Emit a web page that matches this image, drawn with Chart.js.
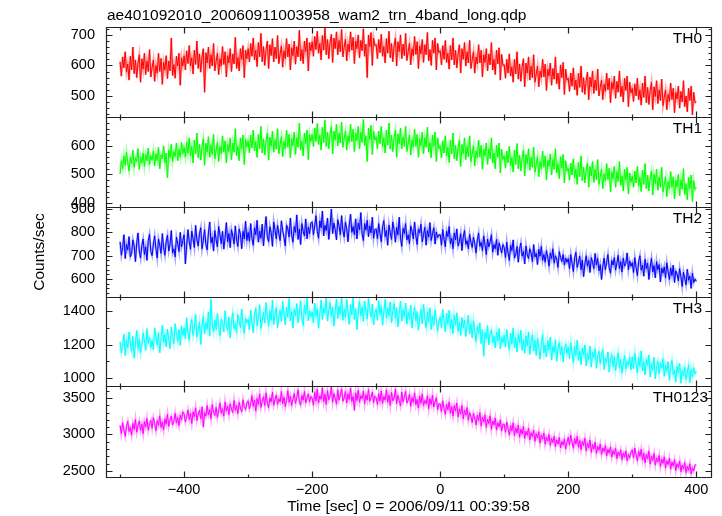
<!DOCTYPE html>
<html>
<head>
<meta charset="utf-8">
<script src="https://cdn.jsdelivr.net/npm/chart.js@4/dist/chart.umd.min.js"></script>
<style>
  html, body { margin: 0; padding: 0; background: #fff; }
  #wrap { position: relative; width: 722px; height: 516px; background: #fff; }
  #wrap canvas { position: absolute; left: 0; top: 0; }
</style>
</head>
<body>
<div id="wrap">
  <canvas id="p0" width="722" height="516"></canvas>
  <canvas id="p1" width="722" height="516"></canvas>
  <canvas id="p2" width="722" height="516"></canvas>
  <canvas id="p3" width="722" height="516"></canvas>
  <canvas id="p4" width="722" height="516"></canvas>
</div>
<script>
// ---- data (2 s bins) ----
const plotTitle = 'ae401092010_20060911003958_wam2_trn_4band_long.qdp';
const xTitle = 'Time [sec] 0 = 2006/09/11 00:39:58';
const yTitle = 'Counts/sec';
const panelLabels = ['TH0', 'TH1', 'TH2', 'TH3', 'TH0123'];

const times = [
  -500,-498,-496,-494,-492,-490,-488,-486,-484,-482,-480,-478,-476,-474,-472,-470,-468,-466,-464,-462,-460,-458,-456,-454,-452,
  -450,-448,-446,-444,-442,-440,-438,-436,-434,-432,-430,-428,-426,-424,-422,-420,-418,-416,-414,-412,-410,-408,-406,-404,-402,
  -400,-398,-396,-394,-392,-390,-388,-386,-384,-382,-380,-378,-376,-374,-372,-370,-368,-366,-364,-362,-360,-358,-356,-354,-352,
  -350,-348,-346,-344,-342,-340,-338,-336,-334,-332,-330,-328,-326,-324,-322,-320,-318,-316,-314,-312,-310,-308,-306,-304,-302,
  -300,-298,-296,-294,-292,-290,-288,-286,-284,-282,-280,-278,-276,-274,-272,-270,-268,-266,-264,-262,-260,-258,-256,-254,-252,
  -250,-248,-246,-244,-242,-240,-238,-236,-234,-232,-230,-228,-226,-224,-222,-220,-218,-216,-214,-212,-210,-208,-206,-204,-202,
  -200,-198,-196,-194,-192,-190,-188,-186,-184,-182,-180,-178,-176,-174,-172,-170,-168,-166,-164,-162,-160,-158,-156,-154,-152,
  -150,-148,-146,-144,-142,-140,-138,-136,-134,-132,-130,-128,-126,-124,-122,-120,-118,-116,-114,-112,-110,-108,-106,-104,-102,
  -100,-98,-96,-94,-92,-90,-88,-86,-84,-82,-80,-78,-76,-74,-72,-70,-68,-66,-64,-62,-60,-58,-56,-54,-52,
  -50,-48,-46,-44,-42,-40,-38,-36,-34,-32,-30,-28,-26,-24,-22,-20,-18,-16,-14,-12,-10,-8,-6,-4,-2,
  0,2,4,6,8,10,12,14,16,18,20,22,24,26,28,30,32,34,36,38,40,42,44,46,48,
  50,52,54,56,58,60,62,64,66,68,70,72,74,76,78,80,82,84,86,88,90,92,94,96,98,
  100,102,104,106,108,110,112,114,116,118,120,122,124,126,128,130,132,134,136,138,140,142,144,146,148,
  150,152,154,156,158,160,162,164,166,168,170,172,174,176,178,180,182,184,186,188,190,192,194,196,198,
  200,202,204,206,208,210,212,214,216,218,220,222,224,226,228,230,232,234,236,238,240,242,244,246,248,
  250,252,254,256,258,260,262,264,266,268,270,272,274,276,278,280,282,284,286,288,290,292,294,296,298,
  300,302,304,306,308,310,312,314,316,318,320,322,324,326,328,330,332,334,336,338,340,342,344,346,348,
  350,352,354,356,358,360,362,364,366,368,370,372,374,376,378,380,382,384,386,388,390,392,394,396,398,
  400
];

const th0 = [
  612,565,628,592,645,578,605,552,630,585,660,573,618,560,608,635,545,622,588,640,570,615,580,652,562,
  593,618,548,600,575,640,580,623,538,610,585,632,557,615,582,690,567,603,558,630,598,640,535,625,598,
  632,585,648,606,665,598,625,572,650,603,680,590,638,578,628,655,512,642,608,660,590,635,598,672,582,
  613,640,570,622,598,662,603,645,562,632,608,655,580,638,605,692,590,626,582,655,620,665,560,650,622,
  655,612,672,630,690,618,650,596,675,628,705,612,662,600,652,680,590,668,632,688,612,660,622,698,606,
  638,664,594,648,622,688,628,670,585,658,632,680,604,662,628,715,615,652,606,680,645,690,582,675,648,
  678,630,695,652,712,640,672,618,698,650,722,635,685,622,675,702,610,690,655,710,635,682,645,718,628,
  660,686,615,670,645,710,650,692,606,680,655,700,625,682,648,720,630,670,560,700,662,708,600,690,665,
  668,622,685,642,702,630,662,608,688,640,712,625,672,612,664,690,598,678,645,700,622,670,632,705,616,
  645,672,602,655,632,695,636,678,590,664,638,685,610,668,635,708,615,652,600,682,640,690,585,672,642,
  648,602,665,620,682,610,640,588,665,618,690,602,650,592,640,668,575,655,620,675,598,645,608,682,590,
  618,645,575,628,605,668,608,650,562,635,610,655,582,638,602,675,585,620,570,650,605,658,552,636,600,
  602,558,620,575,638,565,596,545,620,572,645,555,605,548,595,622,530,608,575,628,552,598,560,635,545,
  572,598,530,582,560,620,562,604,518,588,565,608,535,590,555,628,540,575,522,602,560,610,505,588,552,
  558,515,575,532,592,520,552,502,575,528,598,512,560,505,550,578,488,562,530,582,508,552,518,588,500,
  528,552,488,538,515,575,520,558,478,545,522,565,492,548,512,582,498,532,480,558,518,565,465,545,510,
  525,482,540,500,558,488,520,470,542,495,565,478,528,472,518,545,455,530,498,550,475,520,485,555,468,
  495,520,455,505,482,542,488,525,445,512,490,532,460,515,480,550,465,500,448,525,485,532,438,512,478,
  482
];

const th1 = [
  502,548,520,565,532,578,540,512,560,538,585,525,558,545,590,518,562,540,575,528,570,548,592,535,565,
  550,582,530,572,548,595,520,568,555,600,540,575,488,585,558,605,545,580,562,610,548,588,560,612,572,
  595,560,612,575,628,565,598,540,620,572,645,558,605,550,598,625,532,610,578,632,560,602,570,640,555,
  585,612,545,598,572,635,578,618,540,605,580,628,552,610,578,660,565,598,548,628,590,638,535,622,596,
  618,575,638,592,655,582,615,560,640,590,668,575,625,568,618,645,550,630,598,652,578,622,588,660,572,
  605,632,562,615,590,655,595,640,558,625,600,648,570,628,595,680,585,615,565,645,608,655,552,640,615,
  640,598,662,615,678,605,638,585,665,612,690,598,648,590,640,668,572,652,620,675,600,645,610,682,595,
  625,652,585,635,612,675,615,658,580,645,618,668,590,648,612,692,600,635,545,662,622,672,570,650,620,
  632,590,652,608,668,598,628,575,655,602,680,588,638,580,628,655,560,642,608,662,590,632,598,668,580,
  610,638,568,620,595,658,598,640,560,625,600,648,572,628,595,665,578,612,558,638,598,648,545,628,590,
  600,558,618,575,635,565,595,542,620,572,645,555,602,548,595,620,528,605,572,628,552,598,562,635,545,
  572,600,530,582,558,620,560,602,518,588,565,610,535,590,555,628,540,575,520,602,560,610,505,588,552,
  565,522,582,540,598,530,560,508,585,535,608,520,568,512,558,585,495,570,538,590,515,560,525,595,508,
  535,562,492,545,520,582,525,565,480,550,528,572,498,552,518,590,505,538,485,562,522,570,470,548,512,
  522,480,540,498,555,488,518,465,542,492,565,478,525,470,515,540,455,528,495,545,472,518,482,552,465,
  492,518,450,502,478,538,482,522,440,508,485,528,455,510,475,545,462,495,442,518,480,525,432,505,472,
  495,455,512,470,528,460,490,440,515,465,538,450,498,442,488,512,428,500,468,518,445,490,455,525,438,
  465,490,422,475,450,510,455,492,415,480,455,500,425,482,448,520,430,468,412,490,450,498,405,478,448,
  455
];

const th2 = [
  760,702,735,790,688,748,725,782,695,710,768,742,675,755,798,720,690,745,772,705,738,680,765,792,718,
  700,750,785,728,690,772,745,710,795,735,702,760,788,720,748,808,712,730,695,780,752,718,800,738,765,
  790,665,742,812,760,728,805,772,735,830,768,742,795,820,730,765,812,748,725,798,845,755,780,720,808,
  770,738,825,790,752,805,728,778,842,760,795,735,812,785,750,828,768,740,815,792,730,805,772,848,765,
  800,762,838,775,745,820,790,852,758,805,775,835,742,812,868,782,760,825,798,740,845,810,772,830,795,
  765,850,808,778,742,832,815,780,862,790,758,825,800,875,770,815,748,838,805,785,858,772,822,795,840,
  845,790,828,872,805,775,850,820,892,785,830,808,862,770,825,900,795,840,812,768,855,828,790,872,808,
  780,845,815,760,832,878,800,825,790,858,772,840,812,885,795,765,838,810,852,782,828,798,865,775,812,
  815,772,838,795,760,825,850,782,808,745,832,798,770,845,812,758,822,790,865,775,740,818,795,838,768,
  790,752,828,805,772,845,785,748,815,798,835,760,790,822,745,808,780,842,765,795,820,750,802,778,790,
  790,745,812,770,738,805,782,825,752,775,730,798,768,815,742,760,795,722,780,808,748,765,730,792,758,
  735,780,752,712,768,798,740,758,722,785,748,705,772,738,760,790,715,748,730,770,702,755,735,712,748,
  735,692,758,712,680,745,722,768,690,705,740,672,728,755,698,718,665,742,705,688,730,712,675,748,695,
  710,662,728,698,740,680,705,672,722,695,655,712,688,730,668,700,685,650,718,692,675,705,660,690,672,
  688,645,705,668,632,690,715,650,672,698,640,682,610,665,700,655,680,628,692,672,645,710,660,688,635,
  662,598,655,690,640,672,705,648,625,680,660,692,638,668,702,645,675,630,690,655,668,712,640,678,655,
  670,628,692,650,615,675,700,638,660,612,685,645,668,598,652,690,630,658,605,675,640,662,588,648,625,
  652,605,670,632,598,648,615,660,585,635,622,592,645,610,568,630,602,575,642,595,612,560,625,585,600,
  590
];

const th3 = [
  1215,1150,1190,1262,1135,1228,1180,1275,1205,1160,1248,1118,1210,1285,1175,1232,1150,1198,1270,1222,1165,1295,1208,1240,1182,
  1225,1168,1300,1245,1198,1272,1150,1238,1315,1212,1260,1185,1292,1230,1175,1305,1248,1205,1325,1262,1218,1290,1195,1312,1255,
  1298,1235,1360,1272,1225,1318,1350,1255,1302,1380,1245,1290,1335,1200,1315,1368,1262,1330,1290,1395,1250,1470,1320,1275,1345,
  1290,1385,1308,1252,1352,1330,1275,1402,1318,1282,1365,1240,1338,1390,1295,1325,1270,1378,1342,1300,1412,1318,1268,1355,1330,
  1350,1288,1405,1332,1270,1382,1415,1312,1358,1438,1295,1340,1392,1328,1450,1372,1310,1398,1345,1465,1320,1378,1420,1300,1365,
  1405,1338,1458,1382,1318,1425,1362,1475,1340,1395,1298,1410,1372,1445,1330,1388,1462,1352,1315,1435,1380,1478,1342,1400,1365,
  1395,1330,1448,1368,1412,1298,1382,1465,1350,1420,1388,1478,1340,1405,1450,1365,1425,1310,1398,1472,1355,1430,1380,1482,1345,
  1410,1362,1470,1392,1320,1438,1378,1480,1350,1415,1290,1400,1458,1372,1425,1338,1460,1395,1352,1475,1405,1365,1442,1318,1390,
  1410,1345,1462,1380,1428,1315,1395,1470,1360,1418,1372,1455,1330,1402,1445,1355,1420,1305,1385,1460,1340,1408,1365,1448,1322,
  1392,1350,1435,1298,1375,1422,1340,1398,1285,1362,1410,1325,1440,1352,1300,1395,1335,1420,1290,1368,1318,1405,1345,1280,1340,
  1365,1298,1410,1342,1275,1388,1320,1405,1295,1350,1265,1375,1318,1390,1280,1332,1255,1362,1300,1345,1248,1315,1375,1262,1325,
  1240,1342,1282,1218,1308,1265,1330,1205,1290,1130,1272,1235,1315,1198,1262,1288,1210,1250,1180,1275,1222,1295,1175,1242,1210,
  1255,1185,1290,1222,1168,1268,1205,1298,1180,1240,1155,1262,1210,1285,1165,1228,1148,1252,1192,1275,1140,1215,1258,1160,1225,
  1135,1238,1182,1112,1205,1260,1150,1198,1125,1222,1168,1245,1108,1190,1152,1230,1100,1175,1212,1138,1188,1095,1170,1205,1145,
  1185,1115,1210,1150,1092,1188,1135,1225,1105,1162,1080,1178,1138,1198,1072,1148,1110,1190,1065,1152,1122,1175,1058,1130,1160,
  1085,1142,1170,1050,1118,1092,1155,1035,1105,1140,1068,1128,1045,1098,1150,1060,1112,1030,1088,1135,1052,1102,1075,1125,1048,
  1128,1055,1150,1088,1030,1122,1070,1162,1042,1098,1018,1110,1075,1138,1005,1085,1050,1125,995,1068,1102,1025,1090,1058,1115,
  1010,1078,1040,1098,985,1062,1105,1020,1048,975,1072,1030,1088,968,1045,1012,1065,990,1035,1078,972,1050,1008,1062,1025,
  1040
];

const th0123 = [
  3125,3010,3160,3065,2975,3110,3180,3040,3095,2990,3150,3070,3205,3030,3120,3185,3055,3140,3010,3175,3100,3220,3060,3145,3195,
  3085,3230,3150,3050,3190,3125,3255,3095,3170,3060,3215,3140,3275,3110,3200,3250,3130,3180,3290,3155,3230,3120,3265,3200,3310,
  3280,3170,3245,3335,3205,3290,3150,3310,3240,3365,3190,3275,3330,3215,3380,3100,3300,3250,3395,3270,3340,3215,3410,3305,3260,
  3370,3235,3325,3430,3290,3355,3250,3445,3320,3385,3270,3420,3345,3300,3465,3330,3395,3285,3440,3360,3310,3475,3380,3340,3430,
  3460,3350,3420,3530,3385,3470,3320,3495,3410,3555,3370,3450,3515,3395,3570,3430,3365,3500,3445,3580,3400,3475,3540,3410,3490,
  3445,3590,3420,3510,3380,3465,3600,3440,3525,3395,3480,3560,3425,3505,3610,3455,3400,3535,3470,3590,3430,3500,3555,3445,3520,
  3495,3400,3575,3460,3620,3430,3530,3480,3640,3445,3550,3410,3600,3475,3525,3650,3440,3560,3495,3415,3610,3470,3540,3625,3455,
  3500,3590,3430,3555,3480,3635,3450,3520,3330,3570,3465,3605,3440,3530,3490,3595,3420,3545,3470,3615,3455,3510,3580,3435,3525,
  3500,3410,3560,3455,3595,3425,3520,3470,3610,3440,3540,3395,3575,3460,3500,3620,3420,3535,3465,3390,3580,3445,3510,3590,3430,
  3470,3550,3385,3505,3440,3570,3405,3480,3360,3525,3425,3555,3395,3465,3420,3530,3350,3490,3410,3540,3375,3445,3505,3340,3420,
  3420,3310,3460,3355,3275,3410,3340,3445,3290,3380,3250,3395,3320,3430,3240,3350,3280,3395,3215,3330,3265,3370,3195,3300,3250,
  3160,3290,3225,3130,3265,3190,3300,3115,3235,3175,3270,3095,3210,3150,3255,3070,3185,3130,3225,3060,3160,3105,3200,3045,3140,
  3140,3030,3170,3080,2990,3120,3050,3160,2985,3090,3020,3130,2960,3070,3005,3110,2945,3045,2990,3085,2925,3025,2970,3060,2905,
  3010,2950,3040,2880,2990,2935,3020,2865,2965,2910,3000,2850,2945,2890,2975,2830,2925,2870,2960,2815,2905,2855,2940,2800,2890,
  2960,2855,2990,2890,2810,2945,2870,2975,2825,2920,2790,2905,2850,2950,2775,2880,2820,2925,2755,2860,2800,2895,2740,2835,2785,
  2870,2725,2815,2765,2850,2705,2795,2745,2830,2690,2780,2725,2810,2670,2760,2710,2790,2655,2745,2690,2775,2640,2725,2680,2755,
  2790,2680,2815,2720,2640,2770,2700,2800,2650,2745,2610,2725,2670,2775,2595,2700,2645,2740,2580,2680,2625,2715,2560,2660,2605,
  2695,2540,2640,2590,2675,2525,2620,2570,2655,2505,2600,2550,2635,2490,2580,2530,2615,2475,2565,2510,2600,2460,2545,2500,2580,
  2590
];

const xTickValues = [-400, -200, 0, 200, 400];
const yTickValues = [
  [500, 600, 700],
  [400, 500, 600],
  [600, 700, 800, 900],
  [1000, 1200, 1400],
  [2500, 3000, 3500]
];

// ---- layout / style ----
const FONT = '"Liberation Sans", Arial, Helvetica, sans-serif';
const W = 722, H = 516;
const PLOT_LEFT = 106, PLOT_RIGHT = 711;
const X_MIN = -522, X_MAX = 423;

const panels = [
  { series: th0,    color: '#ff0000', halo: 'rgba(255,0,0,0.35)',   top: 27,  bottom: 117, yMin: 431,  yMax: 726,  major: 100, minor: 20 },
  { series: th1,    color: '#00ff00', halo: 'rgba(0,255,0,0.35)',   top: 117, bottom: 207, yMin: 386,  yMax: 701,  major: 100, minor: 20 },
  { series: th2,    color: '#0000ff', halo: 'rgba(0,0,255,0.35)',   top: 207, bottom: 297, yMin: 523,  yMax: 909,  major: 100, minor: 20 },
  { series: th3,    color: '#00ffff', halo: 'rgba(0,255,255,0.35)', top: 297, bottom: 386, yMin: 952,  yMax: 1484, major: 200, minor: 100 },
  { series: th0123, color: '#ff00ff', halo: 'rgba(255,0,255,0.35)', top: 386, bottom: 477, yMin: 2418, yMax: 3663, major: 500, minor: 100 }
];

const fmtTick = v => (v < 0 ? '\u2212' + Math.abs(v) : String(v));

// frame, inward ticks on all four sides, panel label, main title
const qdpFrame = {
  id: 'qdpFrame',
  afterDatasetsDraw(chart) {
    const idx = chart.options.plugins.qdpFrame.index;
    const p = panels[idx];
    const ctx = chart.ctx;
    const a = chart.chartArea;
    const xs = chart.scales.x, ys = chart.scales.y;
    const L = Math.round(a.left) + 0.5, R = Math.round(a.right) + 0.5;
    const T = Math.round(a.top) + 0.5, B = Math.round(a.bottom) + 0.5;

    ctx.save();
    ctx.strokeStyle = '#222';
    ctx.lineWidth = 1.2;
    ctx.beginPath();
    ctx.rect(L, T, R - L, B - T);

    // y ticks (left and right)
    for (let v = Math.ceil(p.yMin / p.minor) * p.minor; v <= p.yMax; v += p.minor) {
      const py = Math.round(ys.getPixelForValue(v)) + 0.5;
      const len = v % p.major === 0 ? 6 : 3;
      ctx.moveTo(L, py); ctx.lineTo(L + len, py);
      ctx.moveTo(R, py); ctx.lineTo(R - len, py);
    }
    // x ticks (top and bottom)
    for (let t = -500; t <= 400; t += 100) {
      const px = Math.round(xs.getPixelForValue(t)) + 0.5;
      const len = t % 200 === 0 ? 6 : 3;
      ctx.moveTo(px, B); ctx.lineTo(px, B - len);
      ctx.moveTo(px, T); ctx.lineTo(px, T + len);
    }
    ctx.stroke();

    ctx.fillStyle = '#000';
    ctx.font = '15.5px ' + FONT;
    ctx.textBaseline = 'alphabetic';
    ctx.textAlign = 'right';
    const labelRight = idx === 4 ? 708 : 702;
    ctx.fillText(panelLabels[idx], labelRight, a.top + 16);

    if (idx === 0) {
      ctx.textAlign = 'left';
      ctx.fillText(plotTitle, 107, 20);
    }
    ctx.restore();
  }
};

function makePanel(idx) {
  const p = panels[idx];
  const last = idx === panels.length - 1;
  const points = times.map((t, k) => ({ x: t, y: p.series[k] }));
  return new Chart(document.getElementById('p' + idx), {
    type: 'line',
    data: {
      datasets: [
        { label: panelLabels[idx], data: points, borderColor: p.color, borderWidth: 1, pointRadius: 0, tension: 0, order: 0 },
        // faint halo standing in for the error bars
        { label: panelLabels[idx] + ' err', data: points, borderColor: p.halo, borderWidth: 2.2, pointRadius: 0, tension: 0, order: 1 }
      ]
    },
    options: {
      responsive: false,
      animation: false,
      events: [],
      layout: {
        padding: { left: 30, right: W - PLOT_RIGHT, top: p.top, bottom: last ? 0 : H - p.bottom }
      },
      plugins: {
        legend: { display: false },
        tooltip: { enabled: false },
        qdpFrame: { index: idx }
      },
      scales: {
        x: {
          type: 'linear',
          min: X_MIN,
          max: X_MAX,
          display: last,
          afterBuildTicks: s => { s.ticks = xTickValues.map(v => ({ value: v })); },
          afterFit: s => { s.height = last ? H - p.bottom : 0; },
          grid: { display: false, drawTicks: false },
          border: { display: false },
          ticks: {
            padding: 4,
            color: '#000',
            font: { family: FONT, size: 14.5 },
            maxRotation: 0,
            autoSkip: false,
            callback: v => fmtTick(v)
          },
          title: {
            display: true,
            text: xTitle,
            color: '#000',
            font: { family: FONT, size: 15.5 },
            padding: { top: 0, bottom: 0 }
          }
        },
        y: {
          type: 'linear',
          min: p.yMin,
          max: p.yMax,
          afterBuildTicks: s => { s.ticks = yTickValues[idx].map(v => ({ value: v })); },
          afterFit: s => { s.width = PLOT_LEFT - 30; },
          grid: { display: false, drawTicks: false },
          border: { display: false },
          ticks: {
            padding: 11,
            color: '#000',
            font: { family: FONT, size: 14.5 },
            autoSkip: false,
            callback: v => fmtTick(v)
          },
          title: {
            display: idx === 2,
            text: yTitle,
            color: '#000',
            font: { family: FONT, size: 15.5 },
            padding: { top: 0, bottom: 0 }
          }
        }
      }
    },
    plugins: [qdpFrame]
  });
}

panels.forEach((p, i) => makePanel(i));
</script>
</body>
</html>
